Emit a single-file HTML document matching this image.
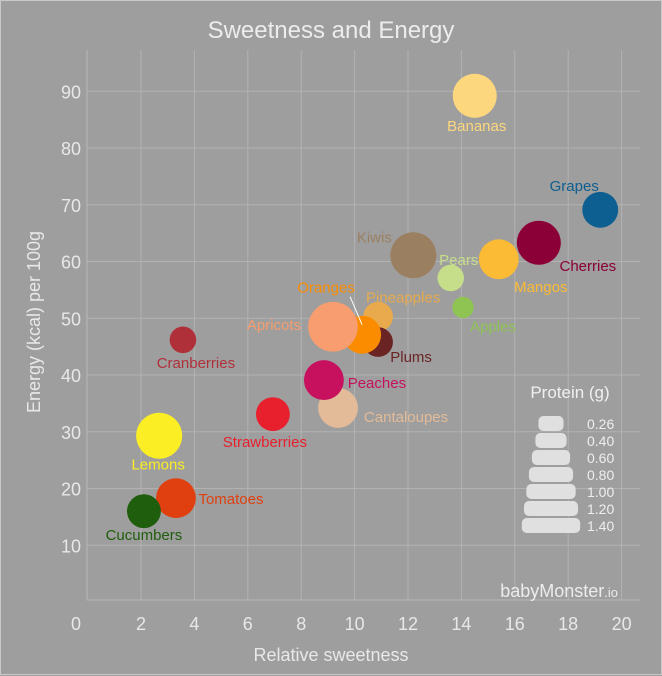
<!DOCTYPE html>
<html><head><meta charset="utf-8">
<style>
html,body{margin:0;padding:0;background:#9e9e9e;}
svg{display:block;font-family:"Liberation Sans",sans-serif;}
</style></head>
<body>
<svg id="chart" width="662" height="676" viewBox="0 0 662 676">
<rect x="0" y="0" width="662" height="676" fill="#9e9e9e"/>
<rect x="0.5" y="0.5" width="661" height="674" fill="none" stroke="#c8c8c8" stroke-width="1"/>
<text x="331" y="38" text-anchor="middle" font-size="24" fill="#ececec">Sweetness and Energy</text>
<g id="grid"></g>
<g id="bubbles"></g>
<g id="labels"></g>
<text x="331" y="661" text-anchor="middle" font-size="18" fill="#e8e8e8">Relative sweetness</text>
<text transform="translate(40,322) rotate(-90)" text-anchor="middle" font-size="18" fill="#e8e8e8">Energy (kcal) per 100g</text>
<g id="legend">
<text x="570" y="398" text-anchor="middle" font-size="17" fill="#f0f0f0">Protein (g)</text>
</g>
<text x="618" y="597" text-anchor="end" font-size="18" fill="#ececec">babyMonster<tspan font-size="13">.io</tspan></text>
</svg>
<script>
const names=["Bananas","Grapes","Cherries","Mangos","Kiwis","Pears","Apples","Pineapples","Oranges","Apricots","Plums","Cranberries","Peaches","Cantaloupes","Strawberries","Lemons","Tomatoes","Cucumbers"];
const sweetness=[14.5,19.2,16.9,15.4,12.2,13.6,14.06,10.88,10.28,9.19,10.88,3.57,8.85,9.38,6.94,2.68,3.31,2.11];
const energy=[89.2,69.1,63.3,60.4,61.1,57.1,51.9,50.3,47.1,48.5,45.8,46.2,39.1,34.2,33.1,29.3,18.3,16.0];
const protein=[1.1,0.73,1.1,0.9,1.2,0.4,0.26,0.5,0.82,1.4,0.5,0.4,0.9,0.9,0.65,1.2,0.9,0.65];
const xTicks=[0,2,4,6,8,10,12,14,16,18,20];
const yTicks=[10,20,30,40,50,60,70,80,90];
const legendValues=[0.26,0.40,0.60,0.80,1.00,1.20,1.40];
const legendLabels=["0.26","0.40","0.60","0.80","1.00","1.20","1.40"];
const colors=["#fdd77e","#0d5e91","#8b0036","#fbbb35","#9b7f61","#c6de8a","#8fc453","#e8aa4c","#fb8c00","#f79d6f","#6b2424","#b0303a","#c7105e","#e3bb98","#e8202d","#fbee25","#e04010","#1e5e0c"];
const labelDx=[2,-26,49,42,-39,8,30,25,-36,-59,33,13,53,68,-8,-1,55,0];
const labelDy=[30,-24,23,28,-18,-18,19,-19,-47,-2,15,23,3,9,28,29,1,24];

const NS="http://www.w3.org/2000/svg";
const X=v=>87.6+v*26.7;
const Y=v=>602-v*5.675;
const R=p=>21*Math.sqrt(p);
function mk(t,a,parent){const e=document.createElementNS(NS,t);for(const k in a)e.setAttribute(k,a[k]);parent.appendChild(e);return e;}
const grid=document.getElementById('grid');
xTicks.forEach((t,i)=>{
  if(t>0){const l=mk('line',{x1:X(t),x2:X(t),y1:50,y2:600,stroke:'#b2b2b2','stroke-width':1},grid);
  
  }
  const tx=mk('text',{x:t===0?76:X(t),y:630,'text-anchor':'middle','font-size':18,fill:'#e8e8e8'},grid);
  tx.textContent=t;
  
  
});
yTicks.forEach(t=>{
  const l=mk('line',{x1:87,x2:640,y1:Y(t),y2:Y(t),stroke:'#b2b2b2','stroke-width':1},grid);
  
  
  const tx=mk('text',{x:81,y:Y(t)+7,'text-anchor':'end','font-size':18,fill:'#e8e8e8'},grid);
  tx.textContent=t;
  
  
});
const ax=mk('line',{x1:87,x2:640,y1:600,y2:600,stroke:'#b8b8b8'},grid);


const ay=mk('line',{x1:87,x2:87,y1:50,y2:600,stroke:'#b8b8b8'},grid);



const bub=document.getElementById('bubbles'),lab=document.getElementById('labels');
const drawOrder=[0,1,2,3,4,5,6,11,14,15,16,17,13,12,7,10,8,9];
drawOrder.forEach(i=>{
  const c=mk('circle',{cx:X(sweetness[i]),cy:Y(energy[i]),r:R(protein[i]),fill:colors[i]},bub);
  
  
});
names.forEach((n,i)=>{
  const t=mk('text',{x:X(sweetness[i])+labelDx[i],y:Y(energy[i])+labelDy[i]+5,'text-anchor':'middle','font-size':15,fill:colors[i]},lab);
  t.textContent=n;
  
  
});
const ol=mk('line',{x1:X(sweetness[8])-12,y1:Y(energy[8])-38,x2:X(sweetness[8]),y2:Y(energy[8])-10,stroke:'#ffffff','stroke-width':1},lab);



const lg=document.getElementById('legend');
legendValues.forEach((v,i)=>{
  const w=R(v)*2.35,y=416+i*17;
  const r=mk('rect',{x:551-w/2,y:y,width:w,height:15,rx:5,fill:'#e0e0e0'},lg);
  
  
  const t=mk('text',{x:587,y:y+13,'font-size':14,fill:'#eeeeee'},lg);
  t.textContent=legendLabels[i];
  
  
});
</script>
</body></html>
